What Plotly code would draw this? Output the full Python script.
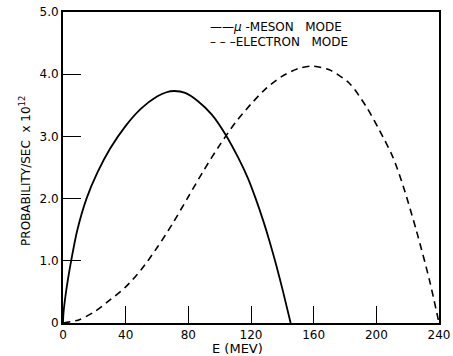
import plotly.graph_objects as go

# Data
mu_E = [0, 0.3, 2.4, 5.2, 9, 15, 22, 30, 40, 50, 60, 66, 71,
        78, 86, 95, 104, 112, 118, 123, 128, 132, 136, 140.5, 145.3]
mu_P = [0, 0.16, 0.58, 1.0, 1.48, 2.0, 2.42, 2.8, 3.17, 3.45, 3.64, 3.71, 3.73,
        3.70, 3.57, 3.35, 3.02, 2.65, 2.33, 2.0, 1.63, 1.3, 0.94, 0.5, 0]

el_E = [0, 10, 20, 30, 40, 50, 60, 70, 80, 90, 100, 110, 120, 130, 140, 150, 158.4,
        170, 182.9, 193.5, 202, 210.5, 216.9, 225.4, 233.9, 240]
el_P = [0, 0.05, 0.18, 0.37, 0.58, 0.86, 1.21, 1.6, 2.03, 2.46, 2.86, 3.22, 3.52, 3.78,
        3.97, 4.09, 4.13, 4.07, 3.85, 3.48, 3.10, 2.67, 2.22, 1.5, 0.69, 0]

x_ticks = [0, 40, 80, 120, 160, 200, 240]
x_labels = ["0", "40", "80", "120", "160", "200", "240"]
y_ticks = [0, 1, 2, 3, 4, 5]
y_labels = ["0", "1.0", "2.0", "3.0", "4.0", "5.0"]

FONT = "DejaVu Sans, Liberation Sans, sans-serif"

fig = go.Figure()
fig.add_trace(go.Scatter(x=mu_E, y=mu_P, mode="lines", name="μ-MESON MODE",
                         line=dict(color="black", width=1.8, shape="spline", smoothing=0.8)))
fig.add_trace(go.Scatter(x=el_E, y=el_P, mode="lines", name="ELECTRON MODE",
                         line=dict(color="black", width=1.6, dash="7px,5px", shape="spline", smoothing=0.8)))

fig.update_layout(
    width=453, height=356,
    margin=dict(l=63, r=14, t=12, b=33),
    paper_bgcolor="white", plot_bgcolor="white",
    showlegend=False,
    font=dict(family=FONT, color="black", size=12),
)
fig.update_xaxes(range=[0, 240], tickvals=x_ticks, ticktext=x_labels,
                 ticks="inside", ticklen=17, tickwidth=1.2, tickcolor="black",
                 showline=True, linecolor="black", linewidth=2, mirror=True,
                 showgrid=False, zeroline=False, tickfont=dict(size=12), automargin=False)
fig.update_yaxes(range=[0, 5], tickvals=y_ticks, ticktext=y_labels,
                 ticks="inside", ticklen=18, tickwidth=1.2, tickcolor="black",
                 showline=True, linecolor="black", linewidth=2, mirror=True,
                 showgrid=False, zeroline=False, tickfont=dict(size=12), automargin=False)

fig.add_annotation(text="E (MEV)", xref="paper", yref="paper", x=0.465, y=-0.083,
                   showarrow=False, font=dict(size=13), xanchor="center", yanchor="middle")
fig.add_annotation(text="PROBABILITY/SEC  x 10<sup>12</sup>", xref="paper", yref="paper",
                   x=-0.101, y=0.489, textangle=-90, showarrow=False, font=dict(size=12),
                   xanchor="center", yanchor="middle")
fig.add_annotation(text="——<i>μ</i> -MESON   MODE", xref="paper", yref="paper",
                   x=0.385, y=0.952, showarrow=False, font=dict(size=12),
                   xanchor="left", yanchor="middle")
fig.add_annotation(text="– – –ELECTRON   MODE", xref="paper", yref="paper",
                   x=0.385, y=0.904, showarrow=False, font=dict(size=12),
                   xanchor="left", yanchor="middle")

fig.write_html("out.html", config={"displayModeBar": False},
               post_script="document.body.style.margin='0';")
